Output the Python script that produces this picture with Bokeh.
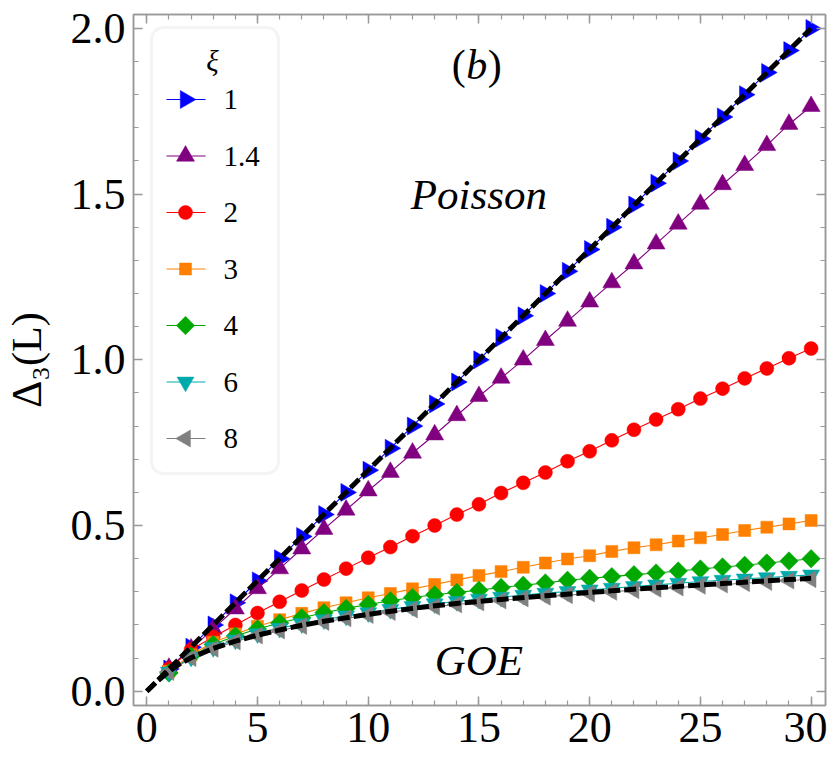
import numpy as np
from bokeh.plotting import figure
from bokeh.models import (LinearAxis, SingleIntervalTicker, Range1d,
                          NumeralTickFormatter, BoxAnnotation)
from bokeh.core.properties import value
from bokeh.embed import file_html
from bokeh.resources import INLINE

# ---------------- data ----------------
L = list(range(1, 31))
xi_labels = ["1", "1.4", "2", "3", "4", "6", "8"]

d_xi1 = [0.067, 0.133, 0.200, 0.267, 0.333, 0.400, 0.467, 0.533, 0.600, 0.667,
         0.733, 0.800, 0.867, 0.933, 1.000, 1.067, 1.133, 1.200, 1.267, 1.333,
         1.400, 1.467, 1.533, 1.600, 1.667, 1.733, 1.800, 1.867, 1.933, 2.000]
d_xi14 = [0.070, 0.128, 0.188, 0.249, 0.310, 0.370, 0.430, 0.489, 0.547, 0.605,
          0.661, 0.719, 0.774, 0.832, 0.890, 0.945, 1.000, 1.059, 1.117, 1.175,
          1.233, 1.290, 1.350, 1.410, 1.470, 1.529, 1.587, 1.647, 1.711, 1.765]
d_xi2 = [0.068, 0.125, 0.164, 0.200, 0.236, 0.270, 0.304, 0.337, 0.370, 0.403,
         0.435, 0.468, 0.500, 0.533, 0.564, 0.598, 0.629, 0.660, 0.694, 0.724,
         0.757, 0.789, 0.820, 0.851, 0.883, 0.913, 0.944, 0.974, 1.005, 1.034]
d_xi3 = [0.060, 0.110, 0.148, 0.173, 0.196, 0.216, 0.235, 0.252, 0.267, 0.282,
         0.295, 0.309, 0.322, 0.336, 0.349, 0.361, 0.374, 0.387, 0.399, 0.409,
         0.422, 0.433, 0.442, 0.453, 0.463, 0.473, 0.485, 0.495, 0.505, 0.515]
d_xi4 = [0.055, 0.106, 0.141, 0.167, 0.188, 0.206, 0.222, 0.237, 0.250, 0.262,
         0.273, 0.283, 0.291, 0.298, 0.305, 0.313, 0.320, 0.327, 0.335, 0.341,
         0.346, 0.352, 0.357, 0.363, 0.369, 0.375, 0.380, 0.387, 0.393, 0.400]
d_xi6 = [0.058, 0.103, 0.132, 0.155, 0.174, 0.190, 0.204, 0.216, 0.227, 0.237,
         0.247, 0.256, 0.264, 0.271, 0.278, 0.284, 0.290, 0.296, 0.301, 0.306,
         0.311, 0.316, 0.321, 0.326, 0.331, 0.335, 0.339, 0.343, 0.347, 0.351]
d_xi8 = [0.058, 0.100, 0.128, 0.150, 0.168, 0.183, 0.197, 0.209, 0.220, 0.230,
         0.239, 0.247, 0.255, 0.262, 0.268, 0.274, 0.280, 0.285, 0.290, 0.295,
         0.300, 0.305, 0.309, 0.313, 0.318, 0.322, 0.326, 0.330, 0.334, 0.338]

poisson_L = [0, 10, 20, 30]
poisson_D = [0.0, 0.667, 1.333, 2.0]

goe_L = [0, 0.5, 1, 1.5, 2, 3, 4, 5, 6, 7, 8, 10, 12, 14, 16, 18, 20, 22, 24, 26, 28, 30]
goe_D = [0.0, 0.032, 0.060, 0.083, 0.101, 0.129, 0.151, 0.169, 0.185, 0.199, 0.211,
         0.232, 0.250, 0.265, 0.277, 0.288, 0.298, 0.308, 0.316, 0.325, 0.333, 0.341]

x_ticks_interval = 5
y_ticks_interval = 0.5

# ---------------- styling / layout ----------------
SERIF = "Liberation Serif, Times New Roman, serif"
FRAME = "#999999"
XMIN, XMAX = -0.6, 30.65
YMIN, YMAX = -0.043, 2.042
FW, FH = 692, 691

series = [
    (d_xi1, "#0000ff", "triangle", 18, -np.pi / 2),
    (d_xi14, "#800080", "triangle", 18, 0.0),
    (d_xi2, "#ff0000", "circle", 14, 0.0),
    (d_xi3, "#ff8000", "square", 12, 0.0),
    (d_xi4, "#00a800", "square", 13, np.pi / 4),
    (d_xi6, "#00aaaa", "inverted_triangle", 17, 0.0),
    (d_xi8, "#808080", "triangle", 17, np.pi / 2),
]

p = figure(frame_width=FW, frame_height=FH,
           x_range=Range1d(XMIN, XMAX), y_range=Range1d(YMIN, YMAX),
           output_backend="svg", toolbar_location=None,
           min_border_left=130, min_border_top=14, min_border_right=2,
           min_border_bottom=58)
p.xgrid.visible = False
p.ygrid.visible = False
p.outline_line_color = FRAME
p.outline_line_width = 1.5
p.background_fill_color = "white"
p.border_fill_color = "white"


def style_axis(ax, show_labels):
    ax.axis_line_color = FRAME
    ax.axis_line_width = 1.5
    ax.major_tick_line_color = FRAME
    ax.minor_tick_line_color = FRAME
    ax.major_tick_line_width = 1.5
    ax.minor_tick_line_width = 1.2
    ax.major_tick_in = 9
    ax.major_tick_out = 0
    ax.minor_tick_in = 5
    ax.minor_tick_out = 0
    ax.major_label_text_font = SERIF
    if show_labels:
        ax.major_label_text_font_size = "44px"
        ax.major_label_text_color = "black"
    else:
        ax.major_label_text_font_size = "1px"
        ax.major_label_text_color = None
        ax.major_label_standoff = 0


p.xaxis.ticker = SingleIntervalTicker(interval=x_ticks_interval, num_minor_ticks=5)
p.yaxis.ticker = SingleIntervalTicker(interval=y_ticks_interval, num_minor_ticks=5)
p.yaxis.formatter = NumeralTickFormatter(format="0.0")
style_axis(p.xaxis[0], True)
style_axis(p.yaxis[0], True)
p.xaxis.major_label_standoff = 7
p.yaxis.major_label_standoff = 8
p.yaxis.axis_label = "Δ₃(L)"
p.yaxis.axis_label_text_font = SERIF
p.yaxis.axis_label_text_font_style = "normal"
p.yaxis.axis_label_text_font_size = "42px"
p.yaxis.axis_label_text_color = "black"
p.yaxis.axis_label_standoff = 18

top = LinearAxis(ticker=SingleIntervalTicker(interval=x_ticks_interval, num_minor_ticks=5))
right = LinearAxis(ticker=SingleIntervalTicker(interval=y_ticks_interval, num_minor_ticks=5))
style_axis(top, False)
style_axis(right, False)
p.add_layout(top, "above")
p.add_layout(right, "right")

# data series
for (vals, col, mk, sz, ang) in series:
    p.line(L, vals, line_color=col, line_width=1.1)
    p.scatter(L, vals, marker=mk, size=sz, angle=ang,
              fill_color=col, line_color=col, line_width=0.5)

# theory curves on top
p.line(poisson_L, poisson_D, line_color="black", line_width=5, line_dash="12 4")
p.line(goe_L, goe_D, line_color="black", line_width=5, line_dash="12 4")


# in-plot annotations
def txt(x, y, s, size, style, xoff=0, align="center", level="glyph"):
    r = p.text(x=[x], y=[y], text=[s], text_font=value(SERIF), text_font_size=size,
               text_font_style=style, text_align=align, text_baseline="middle",
               text_color="black", x_offset=xoff)
    r.level = level
    return r


txt(15.0, 1.50, "Poisson", "43px", "italic")
txt(15.0, 0.093, "GOE", "43px", "italic")
txt(14.9, 1.89, "(", "42px", "normal", -18)
txt(14.9, 1.89, "b", "42px", "italic", 0)
txt(14.9, 1.89, ")", "42px", "normal", 18)


# ---------------- legend (drawn in the frame, above the data) ----------------
def xd(px):  # pixel offset from frame left -> data x
    return XMIN + px * (XMAX - XMIN) / FW


def yd(py):  # pixel offset from frame top -> data y
    return YMAX - py * (YMAX - YMIN) / FH


box = BoxAnnotation(left=xd(18), right=xd(145), top=yd(13), bottom=yd(459),
                    fill_color="white", fill_alpha=1.0,
                    line_color="#d9d9d9", line_width=3)
if "border_radius" in BoxAnnotation.properties():
    box.border_radius = 12
p.add_layout(box)

txt(xd(79), yd(46), "ξ", "29px", "italic", level="overlay")
for i, ((vals, col, mk, sz, ang), lab) in enumerate(zip(series, xi_labels)):
    ry = yd(85 + i * 56.5)
    seg = p.segment(x0=[xd(33)], y0=[ry], x1=[xd(72)], y1=[ry],
                    line_color=col, line_width=1.1)
    seg.level = "overlay"
    mr = p.scatter(x=[xd(52)], y=[ry], marker=mk, size=sz, angle=ang,
                   fill_color=col, line_color=col, line_width=0.5)
    mr.level = "overlay"
    txt(xd(90), ry, lab, "29px", "normal", align="left", level="overlay")

open("out.html", "w").write(file_html(p, INLINE))
